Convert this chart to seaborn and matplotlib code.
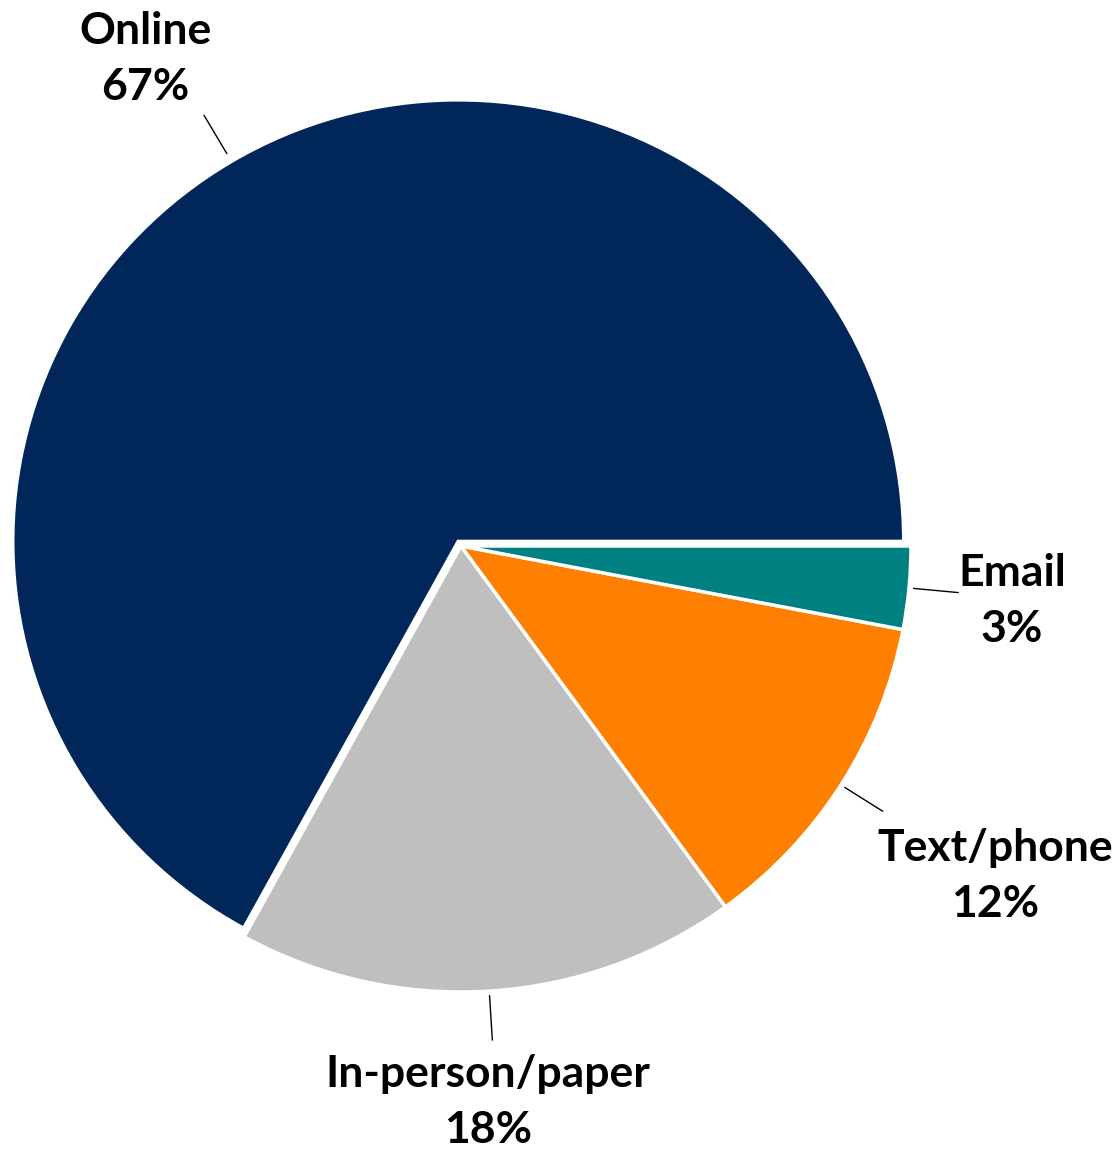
import numpy as np
import matplotlib.pyplot as plt
import seaborn as sns

# survey response channels (share of responses, %)
categories = ["Online", "In-person/paper", "Text/phone", "Email"]
shares = [67, 18, 12, 3]
colors = ["#00265A", "#BFBFBF", "#FF8000", "#008080"]

# layout: explode and label anchor positions (pie units)
explode = [0.012, 0, 0, 0]
label_xy = [(-0.702, 1.092), (0.060, -1.247), (1.187, -0.740), (1.224, -0.123)]

sns.set_theme(style="white")
plt.rcParams["font.family"] = ["Lato", "DejaVu Sans"]

fig = plt.figure(figsize=(11.2, 11.51), dpi=100)
ax = fig.add_axes([0, 0, 1, 1])

wedges, _ = ax.pie(
    shares,
    colors=colors,
    explode=explode,
    startangle=0,
    counterclock=True,
    radius=1,
    wedgeprops=dict(edgecolor="white", linewidth=2.5),
)
wedges[0].set_radius(0.99)

for w, name, val, (tx, ty) in zip(wedges, categories, shares, label_xy):
    mid = np.deg2rad((w.theta1 + w.theta2) / 2)
    u = np.array([np.cos(mid), np.sin(mid)])
    c = np.array(w.center)
    p0 = c + 1.01 * u
    p1 = c + 1.11 * u
    ax.plot([p0[0], p1[0]], [p0[1], p1[1]], color="black", linewidth=1)
    ax.text(tx, ty, f"{name}\n{val}%", ha="center", va="center",
            fontsize=32, fontweight="bold", color="black", linespacing=1.5)

# pie centre at about (461, 546) px; ~450 px per unit across, ~446 px down
ax.set_aspect("auto")
ax.set_xlim(-461 / 450, (1120 - 461) / 450)
ax.set_ylim(-(1151 - 546) / 446, 546 / 446)
ax.axis("off")

fig.savefig("out.png", dpi=100)
